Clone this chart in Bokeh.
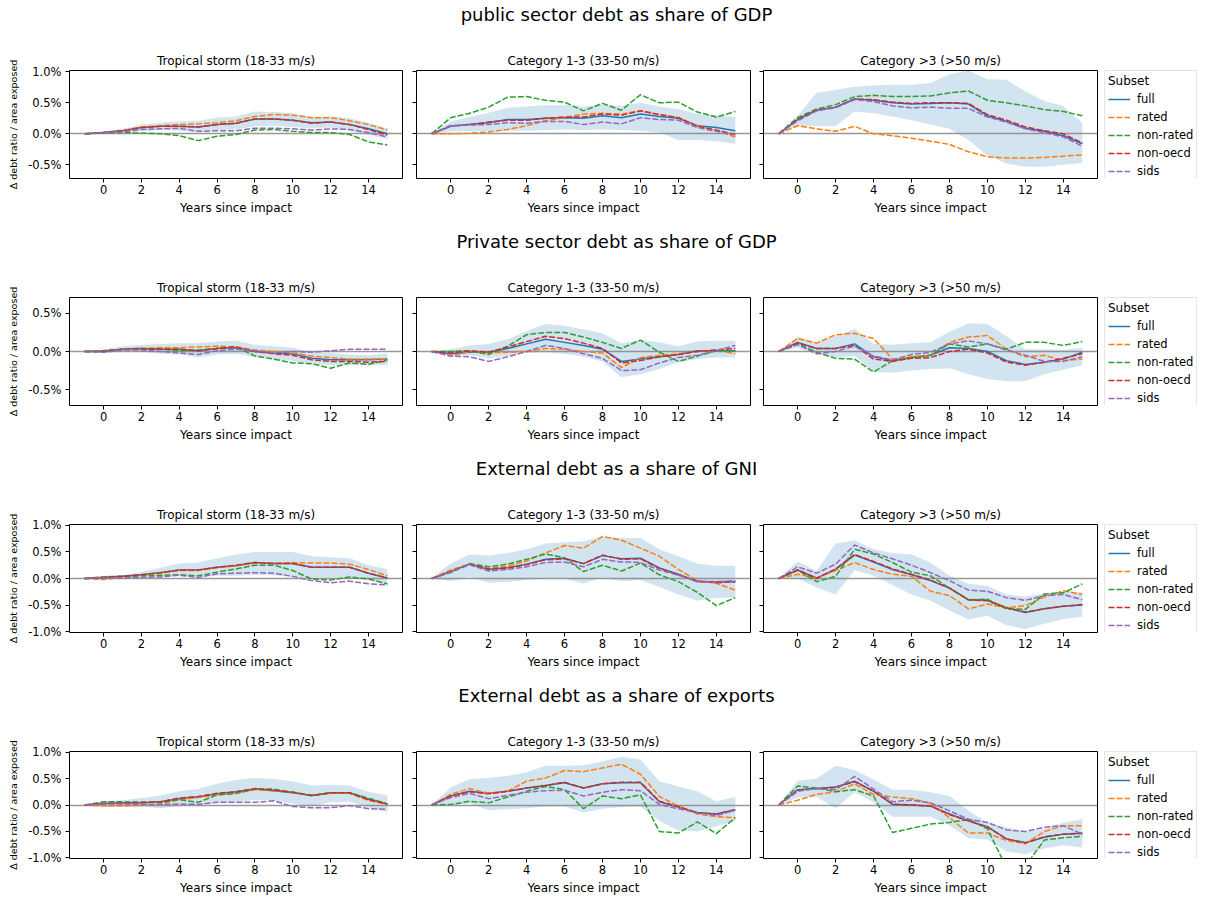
from bokeh.plotting import figure
from bokeh.layouts import column, row
from bokeh.models import Range1d, FixedTicker, PrintfTickFormatter, Legend, LegendItem
from bokeh.core.properties import value
from bokeh.embed import file_html
from bokeh.resources import INLINE

FONT = "DejaVu Sans"

# ---------------------------------------------------------------- data
years = list(range(-1, 16))
x_ticks = list(range(0, 15, 2))
subsets = ["full", "rated", "non-rated", "non-oecd", "sids"]
subset_colors = ["#1f77b4", "#ff7f0e", "#2ca02c", "#d62728", "#9467bd"]
subset_dash = ["solid", "6 2", "6 2", "6 2", "6 2"]
storm_classes = ["Tropical storm (18-33 m/s)", "Category 1-3 (33-50 m/s)", "Category >3 (>50 m/s)"]
debt_measures = ["public sector debt as share of GDP", "Private sector debt as share of GDP",
                 "External debt as a share of GNI", "External debt as a share of exports"]
y_label = "\u0394 debt ratio / area exposed"
x_label = "Years since impact"
baseline = 0.0

# public sector debt / GDP
pub_ts = {
    "full":      [0, 0.02, 0.05, 0.10, 0.12, 0.12, 0.11, 0.15, 0.17, 0.24, 0.24, 0.22, 0.18, 0.19, 0.15, 0.08, 0.00],
    "rated":     [0, 0.02, 0.05, 0.11, 0.13, 0.15, 0.16, 0.18, 0.21, 0.28, 0.31, 0.30, 0.26, 0.26, 0.21, 0.15, 0.06],
    "non-rated": [0, 0.01, 0.02, 0.01, 0.00, -0.03, -0.11, -0.04, -0.01, 0.06, 0.07, 0.04, 0.02, 0.02, -0.01, -0.13, -0.18],
    "non-oecd":  [0, 0.02, 0.05, 0.10, 0.12, 0.12, 0.11, 0.15, 0.17, 0.24, 0.24, 0.22, 0.17, 0.19, 0.15, 0.07, -0.02],
    "sids":      [0, 0.02, 0.03, 0.07, 0.08, 0.09, 0.04, 0.05, 0.05, 0.09, 0.09, 0.08, 0.06, 0.08, 0.07, 0.02, -0.05],
    "lo":        [0, 0.00, 0.02, 0.04, 0.06, 0.05, 0.03, 0.06, 0.07, 0.12, 0.13, 0.11, 0.09, 0.10, 0.05, -0.02, -0.08],
    "hi":        [0, 0.04, 0.08, 0.15, 0.18, 0.20, 0.21, 0.26, 0.28, 0.36, 0.35, 0.33, 0.27, 0.28, 0.25, 0.18, 0.09],
}
pub_c13 = {
    "full":      [0, 0.12, 0.15, 0.18, 0.23, 0.23, 0.25, 0.26, 0.25, 0.29, 0.26, 0.32, 0.28, 0.25, 0.13, 0.10, 0.05],
    "rated":     [0, 0.00, 0.01, 0.03, 0.07, 0.13, 0.21, 0.26, 0.32, 0.33, 0.32, 0.37, 0.31, 0.26, 0.13, 0.05, -0.05],
    "non-rated": [0, 0.26, 0.33, 0.43, 0.59, 0.60, 0.54, 0.51, 0.37, 0.49, 0.38, 0.63, 0.50, 0.51, 0.35, 0.27, 0.36],
    "non-oecd":  [0, 0.13, 0.15, 0.19, 0.22, 0.22, 0.25, 0.27, 0.27, 0.32, 0.30, 0.37, 0.31, 0.26, 0.12, 0.06, -0.01],
    "sids":      [0, 0.13, 0.14, 0.15, 0.18, 0.17, 0.20, 0.20, 0.15, 0.19, 0.16, 0.26, 0.23, 0.22, 0.10, 0.04, -0.02],
    "lo":        [0, 0.04, 0.04, 0.04, 0.05, 0.05, 0.06, 0.07, 0.06, 0.07, 0.06, 0.05, 0.02, -0.10, -0.10, -0.12, -0.16],
    "hi":        [0, 0.20, 0.27, 0.34, 0.42, 0.44, 0.46, 0.46, 0.44, 0.47, 0.45, 0.50, 0.44, 0.40, 0.32, 0.30, 0.27],
}
pub_c3 = {
    "full":      [0, 0.23, 0.38, 0.43, 0.56, 0.54, 0.50, 0.48, 0.49, 0.50, 0.48, 0.29, 0.20, 0.09, 0.04, -0.03, -0.16],
    "rated":     [0, 0.13, 0.08, 0.04, 0.12, 0.00, -0.03, -0.07, -0.12, -0.17, -0.29, -0.37, -0.39, -0.39, -0.38, -0.36, -0.34],
    "non-rated": [0, 0.26, 0.40, 0.47, 0.60, 0.62, 0.60, 0.60, 0.61, 0.66, 0.69, 0.54, 0.50, 0.45, 0.39, 0.36, 0.29],
    "non-oecd":  [0, 0.23, 0.38, 0.43, 0.56, 0.55, 0.51, 0.49, 0.50, 0.50, 0.49, 0.31, 0.22, 0.11, 0.05, 0.00, -0.15],
    "sids":      [0, 0.21, 0.37, 0.42, 0.55, 0.52, 0.45, 0.42, 0.43, 0.41, 0.41, 0.27, 0.19, 0.08, 0.02, -0.05, -0.20],
    "lo":        [0, 0.13, 0.12, 0.12, 0.36, 0.33, 0.28, 0.22, 0.15, 0.08, -0.10, -0.35, -0.48, -0.53, -0.53, -0.50, -0.47],
    "hi":        [0, 0.29, 0.66, 0.71, 0.76, 0.78, 0.79, 0.79, 0.82, 0.96, 1.02, 0.88, 0.87, 0.68, 0.53, 0.45, 0.17],
}

# private sector debt / GDP
pri_ts = {
    "full":      [0, 0.00, 0.03, 0.04, 0.03, 0.03, 0.01, 0.04, 0.05, 0.00, -0.02, -0.03, -0.09, -0.11, -0.11, -0.11, -0.10],
    "rated":     [0, 0.01, 0.03, 0.04, 0.05, 0.05, 0.06, 0.07, 0.06, 0.02, 0.00, -0.02, -0.06, -0.08, -0.10, -0.10, -0.10],
    "non-rated": [0, 0.01, 0.03, 0.03, 0.03, 0.01, 0.02, 0.04, 0.06, -0.06, -0.10, -0.15, -0.16, -0.22, -0.15, -0.17, -0.11],
    "non-oecd":  [0, 0.00, 0.03, 0.04, 0.03, 0.03, 0.01, 0.04, 0.06, 0.00, -0.03, -0.05, -0.11, -0.13, -0.13, -0.14, -0.13],
    "sids":      [0, -0.01, 0.02, 0.02, 0.00, -0.02, -0.04, 0.01, 0.03, 0.01, -0.02, 0.00, -0.01, 0.01, 0.03, 0.03, 0.03],
    "lo":        [0, -0.02, 0.00, 0.00, -0.03, -0.04, -0.08, -0.04, -0.03, -0.07, -0.11, -0.12, -0.17, -0.18, -0.18, -0.18, -0.18],
    "hi":        [0, 0.03, 0.07, 0.09, 0.10, 0.11, 0.11, 0.13, 0.14, 0.09, 0.07, 0.05, -0.01, -0.02, -0.04, -0.05, -0.03],
}
pri_c13 = {
    "full":      [0, -0.03, -0.01, -0.01, 0.04, 0.10, 0.16, 0.12, 0.08, 0.03, -0.13, -0.10, -0.07, -0.04, 0.01, 0.01, 0.01],
    "rated":     [0, -0.06, 0.00, -0.02, -0.01, 0.00, 0.04, 0.03, 0.00, -0.02, -0.21, -0.08, -0.05, -0.03, 0.00, 0.02, -0.03],
    "non-rated": [0, 0.00, 0.01, -0.04, 0.07, 0.22, 0.25, 0.25, 0.19, 0.12, 0.04, 0.15, -0.01, -0.13, -0.06, 0.01, 0.01],
    "non-oecd":  [0, -0.02, 0.01, -0.01, 0.06, 0.13, 0.20, 0.17, 0.11, 0.04, -0.15, -0.12, -0.07, -0.04, 0.00, 0.02, 0.04],
    "sids":      [0, -0.06, -0.07, -0.13, -0.07, 0.00, 0.08, 0.04, -0.03, -0.09, -0.25, -0.24, -0.15, -0.08, -0.05, 0.01, 0.08],
    "lo":        [0, -0.06, -0.05, -0.09, -0.06, -0.02, -0.01, -0.03, -0.07, -0.13, -0.34, -0.30, -0.23, -0.14, -0.10, -0.08, -0.08],
    "hi":        [0, 0.03, 0.08, 0.10, 0.16, 0.27, 0.36, 0.34, 0.29, 0.24, 0.11, 0.15, 0.12, 0.07, 0.13, 0.14, 0.14],
}
pri_c3 = {
    "full":      [0, 0.12, 0.04, 0.04, 0.10, -0.07, -0.12, -0.08, -0.05, 0.05, 0.04, 0.00, -0.12, -0.17, -0.14, -0.10, -0.01],
    "rated":     [0, 0.17, 0.11, 0.22, 0.24, 0.17, -0.10, -0.07, -0.05, 0.12, 0.19, 0.21, 0.03, -0.07, -0.05, -0.12, -0.10],
    "non-rated": [0, 0.10, -0.01, -0.09, -0.10, -0.27, -0.12, -0.08, -0.05, 0.10, 0.06, 0.10, 0.03, 0.12, 0.12, 0.08, 0.13],
    "non-oecd":  [0, 0.11, 0.04, 0.04, 0.08, -0.10, -0.13, -0.09, -0.08, 0.00, 0.03, -0.02, -0.14, -0.18, -0.14, -0.09, -0.03],
    "sids":      [0, 0.09, -0.03, 0.00, 0.07, -0.06, -0.11, -0.04, -0.01, 0.10, 0.14, 0.10, 0.02, -0.05, -0.13, -0.13, -0.07],
    "lo":        [0, 0.05, -0.04, -0.08, -0.06, -0.27, -0.28, -0.25, -0.23, -0.22, -0.30, -0.36, -0.39, -0.39, -0.30, -0.24, -0.18],
    "hi":        [0, 0.19, 0.12, 0.20, 0.30, 0.10, 0.09, 0.11, 0.12, 0.26, 0.37, 0.36, 0.20, 0.03, 0.03, 0.02, 0.05],
}

# external debt / GNI
gni_ts = {
    "full":      [0, 0.02, 0.04, 0.07, 0.11, 0.16, 0.16, 0.21, 0.24, 0.30, 0.28, 0.28, 0.21, 0.21, 0.21, 0.10, 0.01],
    "rated":     [0, -0.02, 0.02, 0.06, 0.10, 0.15, 0.15, 0.20, 0.24, 0.29, 0.28, 0.30, 0.29, 0.29, 0.27, 0.17, 0.05],
    "non-rated": [0, 0.03, 0.04, 0.05, 0.06, 0.07, 0.05, 0.12, 0.18, 0.25, 0.25, 0.15, -0.01, -0.03, 0.03, -0.01, -0.10],
    "non-oecd":  [0, 0.02, 0.04, 0.07, 0.11, 0.16, 0.16, 0.21, 0.25, 0.30, 0.28, 0.28, 0.21, 0.21, 0.21, 0.10, 0.01],
    "sids":      [0, 0.01, 0.01, 0.02, 0.03, 0.06, 0.02, 0.09, 0.10, 0.11, 0.10, 0.04, -0.04, -0.08, -0.05, -0.10, -0.12],
    "lo":        [0, -0.01, 0.00, 0.02, 0.03, 0.05, 0.03, 0.05, 0.05, 0.07, 0.06, 0.03, 0.02, 0.02, 0.02, -0.03, -0.12],
    "hi":        [0, 0.05, 0.06, 0.12, 0.20, 0.28, 0.30, 0.38, 0.45, 0.50, 0.50, 0.50, 0.42, 0.40, 0.38, 0.25, 0.18],
}
gni_c13 = {
    "full":      [0, 0.13, 0.27, 0.17, 0.20, 0.27, 0.36, 0.38, 0.28, 0.43, 0.37, 0.38, 0.20, 0.08, -0.06, -0.06, -0.06],
    "rated":     [0, 0.16, 0.27, 0.19, 0.23, 0.33, 0.48, 0.62, 0.57, 0.79, 0.72, 0.57, 0.42, 0.17, -0.04, -0.09, -0.22],
    "non-rated": [0, 0.11, 0.28, 0.22, 0.27, 0.36, 0.46, 0.39, 0.13, 0.25, 0.14, 0.29, 0.07, -0.06, -0.26, -0.51, -0.36],
    "non-oecd":  [0, 0.13, 0.27, 0.18, 0.20, 0.26, 0.35, 0.37, 0.28, 0.44, 0.36, 0.37, 0.19, 0.07, -0.05, -0.08, -0.06],
    "sids":      [0, 0.12, 0.26, 0.14, 0.17, 0.22, 0.30, 0.31, 0.22, 0.36, 0.31, 0.30, 0.16, 0.06, -0.05, -0.06, -0.04],
    "lo":        [0, -0.05, 0.03, -0.08, -0.06, -0.03, 0.00, 0.00, -0.10, 0.02, -0.05, -0.03, -0.16, -0.30, -0.42, -0.36, -0.36],
    "hi":        [0, 0.28, 0.45, 0.43, 0.48, 0.55, 0.66, 0.68, 0.70, 0.79, 0.76, 0.76, 0.55, 0.42, 0.28, 0.24, 0.24],
}
gni_c3 = {
    "full":      [0, 0.16, 0.01, 0.17, 0.44, 0.31, 0.17, 0.07, -0.04, -0.18, -0.40, -0.41, -0.55, -0.64, -0.57, -0.52, -0.50],
    "rated":     [0, 0.08, 0.01, 0.15, 0.30, 0.17, 0.08, 0.04, -0.24, -0.32, -0.57, -0.48, -0.55, -0.51, -0.35, -0.23, -0.30],
    "non-rated": [0, 0.16, -0.06, 0.04, 0.55, 0.46, 0.30, 0.12, 0.05, -0.18, -0.40, -0.39, -0.57, -0.58, -0.29, -0.27, -0.10],
    "non-oecd":  [0, 0.16, 0.00, 0.18, 0.45, 0.32, 0.18, 0.08, -0.03, -0.18, -0.40, -0.42, -0.55, -0.63, -0.57, -0.52, -0.49],
    "sids":      [0, 0.22, 0.10, 0.27, 0.63, 0.48, 0.37, 0.25, 0.11, -0.04, -0.22, -0.24, -0.36, -0.41, -0.32, -0.30, -0.40],
    "lo":        [0, 0.00, -0.17, -0.30, 0.16, 0.05, -0.12, -0.30, -0.42, -0.60, -0.77, -0.70, -0.88, -0.95, -0.85, -0.76, -0.72],
    "hi":        [0, 0.32, 0.14, 0.66, 0.72, 0.55, 0.48, 0.45, 0.30, 0.05, -0.10, -0.14, -0.30, -0.34, -0.28, -0.24, -0.26],
}

# external debt / exports
exp_ts = {
    "full":      [0, 0.03, 0.04, 0.04, 0.06, 0.12, 0.15, 0.21, 0.25, 0.30, 0.27, 0.23, 0.18, 0.23, 0.23, 0.11, 0.02],
    "rated":     [0, -0.02, -0.02, -0.01, 0.02, 0.10, 0.14, 0.19, 0.22, 0.29, 0.27, 0.24, 0.18, 0.22, 0.22, 0.09, 0.01],
    "non-rated": [0, 0.06, 0.06, 0.05, 0.05, 0.10, 0.05, 0.19, 0.22, 0.30, 0.30, 0.24, 0.18, 0.23, 0.23, 0.13, 0.02],
    "non-oecd":  [0, 0.03, 0.04, 0.05, 0.06, 0.13, 0.16, 0.22, 0.25, 0.31, 0.28, 0.24, 0.18, 0.23, 0.23, 0.10, 0.02],
    "sids":      [0, 0.02, 0.02, 0.01, 0.01, 0.02, 0.01, 0.05, 0.05, 0.05, 0.08, -0.03, -0.05, -0.05, -0.01, -0.07, -0.08],
    "lo":        [0, 0.00, -0.02, -0.03, -0.06, -0.02, 0.00, 0.05, 0.05, 0.10, 0.08, 0.03, -0.03, 0.05, 0.06, -0.05, -0.13],
    "hi":        [0, 0.07, 0.09, 0.13, 0.18, 0.26, 0.30, 0.40, 0.47, 0.51, 0.49, 0.45, 0.37, 0.38, 0.37, 0.25, 0.18],
}
exp_c13 = {
    "full":      [0, 0.17, 0.26, 0.22, 0.26, 0.32, 0.37, 0.42, 0.32, 0.40, 0.42, 0.42, 0.06, -0.04, -0.14, -0.17, -0.09],
    "rated":     [0, 0.20, 0.31, 0.22, 0.26, 0.45, 0.51, 0.65, 0.63, 0.70, 0.77, 0.58, 0.16, -0.02, -0.17, -0.22, -0.24],
    "non-rated": [0, 0.01, 0.07, 0.04, 0.15, 0.26, 0.35, 0.29, -0.07, 0.17, 0.12, 0.19, -0.50, -0.53, -0.32, -0.54, -0.24],
    "non-oecd":  [0, 0.17, 0.25, 0.21, 0.26, 0.32, 0.37, 0.43, 0.32, 0.40, 0.43, 0.43, 0.07, -0.03, -0.15, -0.17, -0.09],
    "sids":      [0, 0.14, 0.22, 0.12, 0.18, 0.24, 0.27, 0.28, 0.17, 0.24, 0.29, 0.27, 0.01, -0.07, -0.15, -0.20, -0.10],
    "lo":        [0, 0.00, 0.03, -0.10, -0.08, -0.06, -0.03, -0.03, -0.14, -0.07, -0.04, -0.03, -0.30, -0.48, -0.50, -0.40, -0.30],
    "hi":        [0, 0.33, 0.49, 0.51, 0.55, 0.62, 0.74, 0.74, 0.75, 0.82, 0.91, 0.86, 0.45, 0.35, 0.26, 0.07, 0.15],
}
exp_c3 = {
    "full":      [0, 0.29, 0.31, 0.34, 0.45, 0.26, 0.01, 0.00, -0.02, -0.17, -0.30, -0.41, -0.64, -0.71, -0.61, -0.55, -0.53],
    "rated":     [0, 0.09, 0.20, 0.25, 0.40, 0.20, 0.15, 0.12, 0.03, -0.24, -0.53, -0.53, -0.67, -0.73, -0.50, -0.39, -0.39],
    "non-rated": [0, 0.36, 0.32, 0.25, 0.29, 0.17, -0.52, -0.44, -0.36, -0.33, -0.27, -0.45, -1.18, -1.15, -0.66, -0.62, -0.59],
    "non-oecd":  [0, 0.28, 0.31, 0.33, 0.44, 0.26, 0.02, 0.00, -0.02, -0.18, -0.30, -0.42, -0.64, -0.72, -0.60, -0.55, -0.54],
    "sids":      [0, 0.26, 0.31, 0.29, 0.54, 0.30, 0.06, 0.09, 0.04, -0.11, -0.27, -0.33, -0.47, -0.50, -0.42, -0.39, -0.55],
    "lo":        [0, 0.14, 0.15, -0.06, 0.24, 0.05, -0.22, -0.22, -0.22, -0.38, -0.63, -0.65, -0.88, -0.93, -0.82, -0.76, -0.80],
    "hi":        [0, 0.46, 0.50, 0.74, 0.66, 0.48, 0.29, 0.29, 0.24, 0.17, -0.11, -0.33, -0.42, -0.51, -0.45, -0.33, -0.27],
}

row_panels = [(pub_ts, pub_c13, pub_c3), (pri_ts, pri_c13, pri_c3),
              (gni_ts, gni_c13, gni_c3), (exp_ts, exp_c13, exp_c3)]
row_ylims = [(-0.72, 1.02), (-0.71, 0.71), (-1.015, 1.015), (-1.01, 1.01)]
row_yticks = [[-0.5, 0, 0.5, 1.0], [-0.5, 0, 0.5], [-1.0, -0.5, 0, 0.5, 1.0], [-1.0, -0.5, 0, 0.5, 1.0]]

# ---------------------------------------------------------------- layout
PAGE_W = 1208
HEAD_H = 40
TOP = 30
FRAME_H = 108
BORDER_L = [69, 7, 7]
BORDER_R = [7, 6, 7]
FRAME_W = [333, 334, 334]
KEY_W = PAGE_W - sum(l + f + r for l, f, r in zip(BORDER_L, FRAME_W, BORDER_R))
KEY_TOP = TOP - 3
KEY_H = 120


def heading(text):
    h = figure(width=PAGE_W, height=HEAD_H, x_range=Range1d(0, PAGE_W), y_range=Range1d(0, HEAD_H),
               output_backend="svg", toolbar_location=None, min_border=0,
               x_axis_location=None, y_axis_location=None, outline_line_color=None)
    h.xgrid.visible = False
    h.ygrid.visible = False
    h.text(x=[616], y=[HEAD_H - 14], text=[text], text_font=value(FONT), text_font_size="18px",
           text_align="center", text_baseline="middle", text_color="black")
    return h


def panel(data, col, ylim, yticks, bottom):
    w = BORDER_L[col] + FRAME_W[col] + BORDER_R[col]
    p = figure(width=w, height=TOP + FRAME_H + bottom, title=storm_classes[col],
               x_range=Range1d(-1.8, 15.8), y_range=Range1d(*ylim),
               output_backend="svg", toolbar_location=None,
               min_border_left=BORDER_L[col], min_border_right=BORDER_R[col],
               min_border_top=TOP, min_border_bottom=bottom,
               outline_line_color="black", outline_line_width=1,
               background_fill_color="white", border_fill_color="white")
    p.title.align = "center"
    p.title.text_font = FONT
    p.title.text_font_size = "12px"
    p.title.text_font_style = "normal"
    p.title.text_color = "black"
    p.title.standoff = 6
    p.xgrid.visible = False
    p.ygrid.visible = False

    for ax in (p.xaxis, p.yaxis):
        ax.axis_line_color = None
        ax.major_tick_out = 4
        ax.major_tick_in = 0
        ax.major_tick_line_color = "black"
        ax.minor_tick_line_color = None
        ax.major_label_text_font = FONT
        ax.major_label_text_font_size = "11.5px"
        ax.major_label_text_color = "black"
        ax.axis_label_text_font = FONT
        ax.axis_label_text_font_style = "normal"
        ax.axis_label_text_color = "black"

    p.xaxis.ticker = FixedTicker(ticks=x_ticks)
    p.xaxis.major_label_standoff = 2
    p.xaxis.axis_label = x_label
    p.xaxis.axis_label_text_font_size = "12px"
    p.xaxis.axis_label_standoff = 4

    p.yaxis.ticker = FixedTicker(ticks=yticks)
    p.yaxis.formatter = PrintfTickFormatter(format="%.1f%%")
    p.yaxis.major_label_standoff = 4
    if col == 0:
        p.yaxis.axis_label = y_label
        p.yaxis.axis_label_text_font_size = "9.5px"
        p.yaxis.axis_label_standoff = 6
    else:
        p.yaxis.major_label_text_color = None

    # confidence band of the full sample, zero reference, subset paths
    p.varea(x=years, y1=data["lo"], y2=data["hi"], fill_color="#1f77b4", fill_alpha=0.2)
    p.hspan(y=[baseline], line_color="#808080", line_width=1.5, line_alpha=0.8)
    for name, color, dash in zip(subsets, subset_colors, subset_dash):
        p.line(years, data[name], line_color=color, line_width=1.5, line_dash=dash)
    return p


def key(data, bottom):
    # legend box beside the right-hand panel; its line samples share the panel's styling
    k = figure(width=KEY_W, height=TOP + FRAME_H + bottom,
               x_range=Range1d(100, 101), y_range=Range1d(100, 101),
               output_backend="svg", toolbar_location=None,
               min_border_left=0, min_border_right=0, min_border_top=KEY_TOP,
               min_border_bottom=TOP + FRAME_H + bottom - KEY_TOP - KEY_H,
               x_axis_location=None, y_axis_location=None, outline_line_color=None)
    k.xgrid.visible = False
    k.ygrid.visible = False
    items = []
    for name, color, dash in zip(subsets, subset_colors, subset_dash):
        r = k.line(years, data[name], line_color=color, line_width=1.5, line_dash=dash)
        items.append(LegendItem(label=name, renderers=[r]))
    legend = Legend(items=items, location="top_left", title="Subset",
                    title_text_font=FONT, title_text_font_size="12px", title_text_font_style="normal",
                    title_text_color="black", title_standoff=2,
                    label_text_font=FONT, label_text_font_size="11.5px", label_text_color="black",
                    glyph_width=22, glyph_height=18, label_height=18, label_standoff=7,
                    spacing=0, padding=3, margin=0,
                    border_line_color="#cccccc", border_line_width=1,
                    background_fill_color="white", background_fill_alpha=0.8)
    k.add_layout(legend, "center")
    return k


blocks = []
for i, measure in enumerate(debt_measures):
    bottom = 49 if i < len(debt_measures) - 1 else 38
    blocks.append(heading(measure))
    panels = [panel(d, c, row_ylims[i], row_yticks[i], bottom) for c, d in enumerate(row_panels[i])]
    blocks.append(row(*panels, key(row_panels[i][2], bottom)))

page = column(*blocks)

with open("out.html", "w") as f:
    f.write(file_html(page, INLINE))
